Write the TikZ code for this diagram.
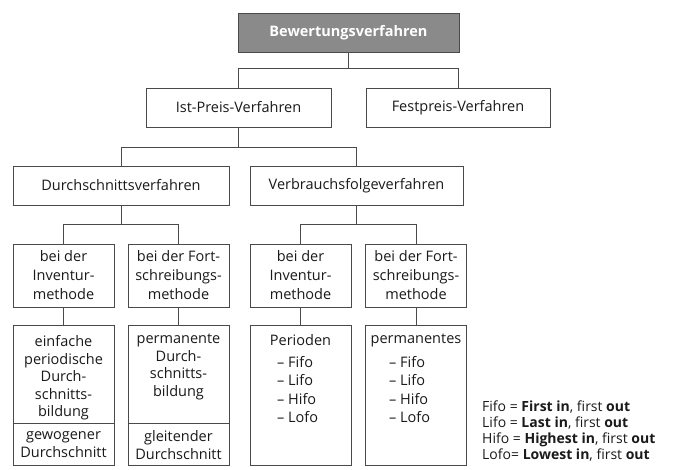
\documentclass[tikz,border=0pt]{standalone}
\usepackage{fontspec}
\setmainfont{Open Sans}
\usetikzlibrary{calc}
\definecolor{linec}{HTML}{4A4A4A}
\definecolor{topfill}{HTML}{8A8A8A}
\definecolor{txtc}{HTML}{1A1A1A}
\tikzset{
  box/.style n args={2}{draw=linec, line width=0.8pt, fill=white, minimum width=#1pt, minimum height=#2pt, inner sep=0pt, text=txtc, align=center},
  mbox/.style={box={101}{63}, font=\fontsize{14.5}{19}\selectfont},
  lbox/.style={box={101}{140}},
  txt/.style={inner sep=0pt, text=txtc, align=center, font=\fontsize{14.5}{17.5}\selectfont},
  listtxt/.style={inner sep=0pt, text=txtc, align=left, font=\fontsize{14.5}{18.2}\selectfont},
  conn/.style={draw=linec, line width=0.8pt},
}
\begin{document}
\begin{tikzpicture}[x=1pt,y=-1pt, font=\fontsize{14.5}{19}\selectfont]
\useasboundingbox (0,0) rectangle (674,470);
% level 0
\node[box={221}{39}, fill=topfill, text=white, font=\fontsize{14.5}{19}\selectfont\bfseries] (top) at (348.5,33) {Bewertungsverfahren};
% level 1
\node[box={185}{39}] (ist) at (238.5,107.5) {Ist-Preis-Verfahren};
\node[box={184}{39}] (fest) at (458,107.5) {Festpreis-Verfahren};
% level 2
\node[box={216}{39}] (durch) at (121,185.5) {Durchschnittsverfahren};
\node[box={213}{39}] (verb) at (356.5,185.5) {Verbrauchsfolgeverfahren};
% level 3
\node[mbox] (di) at (63.5,275.5) {bei der\\Inventur-\\methode};
\node[mbox] (df) at (178.5,275.5) {bei der Fort-\\schreibungs-\\methode};
\node[mbox] (vi) at (300.5,275.5) {bei der\\Inventur-\\methode};
\node[mbox] (vf) at (416,275.5) {bei der Fort-\\schreibungs-\\methode};
% level 4 boxes
\node[lbox] (li) at (63.5,395) {};
\node[lbox] (lf) at (178.5,395) {};
\node[lbox] (ri) at (300.5,395) {};
\node[lbox] (rf) at (416,395) {};
\draw[conn] ([yshift=42pt]li.south west) -- ([yshift=42pt]li.south east);
\draw[conn] ([yshift=42pt]lf.south west) -- ([yshift=42pt]lf.south east);
% texts of level 4
\node[txt, anchor=north] (t1) at (63.5,335.5) {einfache\\periodische\\Durch-\\schnitts-\\bildung};
\node[txt, font=\fontsize{14.5}{18}\selectfont] (b1) at (63.5,445) {gewogener\\Durchschnitt};
\node[txt, anchor=north] (t2) at (178.5,334) {permanente\\Durch-\\schnitts-\\bildung};
\node[txt, font=\fontsize{14.5}{18}\selectfont] (b2) at (178.5,445) {gleitender\\Durchschnitt};
\node[txt, anchor=north] (t3) at (300.5,334) {Perioden};
\node[listtxt, anchor=north west] (l3) at (277,356.5) {– Fifo\\– Lifo\\– Hifo\\– Lofo};
\node[txt, anchor=north] (t4) at (416,334) {permanentes};
\node[listtxt, anchor=north west] (l4) at (389,356.5) {– Fifo\\– Lifo\\– Hifo\\– Lofo};
% legend
\node[inner sep=0pt, anchor=north west, align=left, text=txtc, font=\fontsize{14}{16}\selectfont] (leg) at (482,400.5)
 {Fifo = \textbf{First in}, first \textbf{out}\\
  Lifo = \textbf{Last in}, first \textbf{out}\\
  Hifo = \textbf{Highest in}, first \textbf{out}\\
  Lofo= \textbf{Lowest in}, first \textbf{out}};
% connectors
\draw[conn] (top.south) -- ++(0,16) coordinate (j1);
\draw[conn] (ist.north) |- (j1) -| (fest.north);
\draw[conn] (ist.south) -- ++(0,20) coordinate (j2);
\draw[conn] (durch.north) |- (j2) -| (verb.north);
\draw[conn] (durch.south) -- ++(0,19) coordinate (j3);
\draw[conn] (di.north) |- (j3) -| (df.north);
\draw[conn] (verb.south) -- ++(0,19) coordinate (j4);
\draw[conn] (vi.north) |- (j4) -| (vf.north);
\draw[conn] (di.south) -- (li.north);
\draw[conn] (df.south) -- (lf.north);
\draw[conn] (vi.south) -- (ri.north);
\draw[conn] (vf.south) -- (rf.north);
\end{tikzpicture}
\end{document}
